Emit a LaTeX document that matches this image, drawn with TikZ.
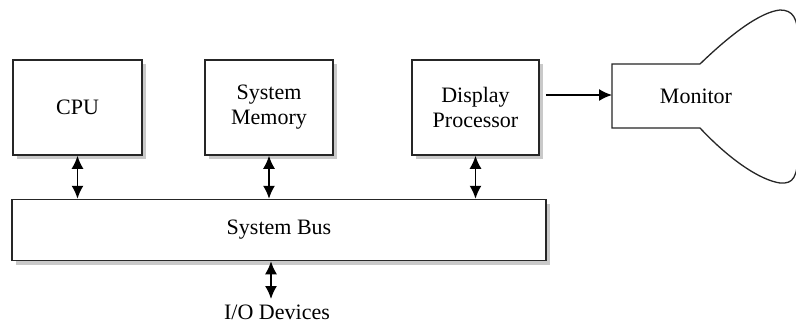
\documentclass[tikz,border=0pt]{standalone}
\usepackage{fontspec}
\setmainfont{Liberation Serif}
\usetikzlibrary{arrows.meta,shadows}

\begin{document}
\begin{tikzpicture}[x=1pt,y=-1pt,
	box/.style={draw=black!85, line width=1.5pt, fill=white, align=center,
		font=\fontsize{22}{25}\selectfont,
		drop shadow={shadow xshift=4pt, shadow yshift=-4pt, fill=black!35, opacity=0.6}},
	biarrow/.style={line width=1.6pt, {Latex[length=13pt,width=12pt]}-{Latex[length=13pt,width=12pt]}},
	txt/.style={font=\fontsize{22}{25}\selectfont}]
			%%%%% START %%%%%
			\useasboundingbox (0,0) rectangle (796,333);
			\fill[white] (0,0) rectangle (796,333);
			
			\node[box, minimum width=129pt, minimum height=95pt] (cpu) at (77.5,107.5) {CPU};
			\node[box, minimum width=128pt, minimum height=95pt] (mem) at (269,107.5) {System\\Memory};
			\node[box, minimum width=127pt, minimum height=95pt] (disp) at (475.5,107.5) {Display\\Processor};
			\node[box, minimum width=534pt, minimum height=61pt] (bus) at (279,230) {System Bus};
			
			\node[txt, anchor=base, inner sep=1pt] (io) at (277,319) {I/O Devices};
			\node[txt] (monitor) at (696,96) {Monitor};
			
			% monitor outline
			\coordinate (mon-in) at (612,95);
			\coordinate (io-top) at (271,299);
			\draw[line width=1.3pt, black!85] (700,64) -- (612,64) -- (612,128) -- (700,128)
				.. controls (730,160) and (760,180) .. (780,183)
				.. controls (793,184) and (798,178) .. (798,150) -- (798,40)
				.. controls (798,18) and (793,10) .. (780,10)
				.. controls (760,12) and (730,35) .. (700,64);
			
			\draw[line width=1.5pt, -{Latex[length=13pt,width=12pt]}, shorten <=6pt] (disp.east |- mon-in) -- (mon-in);
			
			\draw[biarrow] (cpu.south) -- (cpu.south |- bus.north);
			\draw[biarrow] (mem.south) -- (mem.south |- bus.north);
			\draw[biarrow] (disp.south) -- (disp.south |- bus.north);
			\draw[biarrow] (io-top |- bus.south) -- (io-top);
			
			%%%%% END %%%%%
\end{tikzpicture}
\end{document}
